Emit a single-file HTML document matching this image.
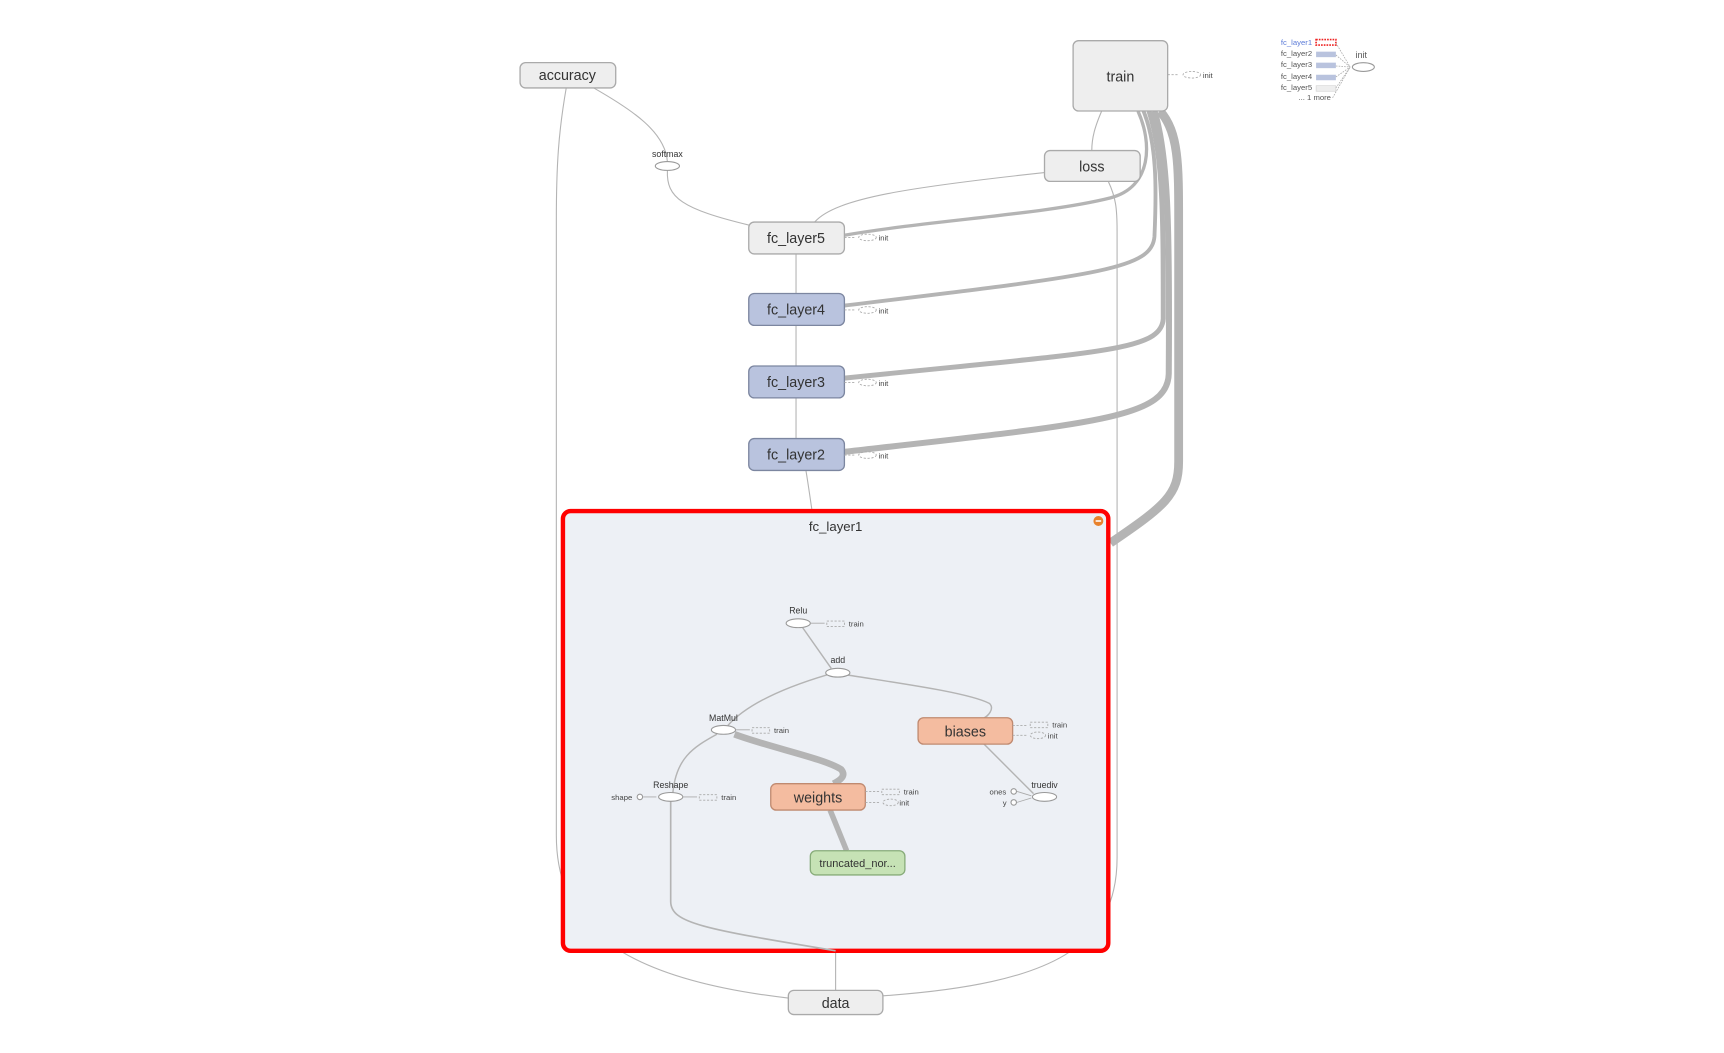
<!DOCTYPE html>
<html><head><meta charset="utf-8"><style>
html,body{margin:0;padding:0;background:#fff;}
svg{display:block;font-family:"Liberation Sans",sans-serif;}
.b{font-size:13px;fill:#333;text-anchor:middle;}
.s{font-size:8px;fill:#333;text-anchor:middle;}
.t{font-size:7px;fill:#444;}
.e{fill:none;stroke:#b4b4b4;}
</style></head><body>
<svg width="1724" height="1053" viewBox="0 0 1568 958" preserveAspectRatio="none" xmlns="http://www.w3.org/2000/svg">
<rect width="1568" height="958" fill="#fff"/>
<path class="e" d="M515 80 C508 120 506 150 506 200 L506 760 C506 840 560 890 717 908" stroke-width="1"/>
<path class="e" d="M1008 165 C1015 180 1016 190 1016 210 L1016 780 C1016 860 960 895 803 906" stroke-width="1"/>
<path class="e" d="M1035 101 C1048 130 1048 170 1010 180 C950 195 850 200 768 214" stroke-width="3"/>
<path class="e" d="M1040 101 C1052 130 1052 170 1050 215 C1048 245 1000 250 768 278" stroke-width="3.5"/>
<path class="e" d="M1045 101 C1058 140 1058 200 1058 290 C1056 320 1000 320 768 344" stroke-width="4.5"/>
<path class="e" d="M1050 101 C1062 140 1064 200 1063 340 C1062 380 1000 385 768 411" stroke-width="5.5"/>
<path class="e" d="M1055 101 C1072 120 1072 150 1072 200 L1072 420 C1072 450 1060 460 1010 494" stroke-width="8"/>
<path class="e" d="M540 80 C575 100 605 120 607 147"/>
<path class="e" d="M607 155 C606 180 620 190 682 205"/>
<path class="e" d="M741 202 C760 180 830 170 950 157"/>
<path class="e" d="M1002 101 C996 115 993 125 993 137"/>
<path class="e" d="M724 231 L724 267"/><path class="e" d="M724 296 L724 333"/><path class="e" d="M724 362 L724 399"/>
<path class="e" d="M733 428 C740 470 740 490 752 510 C765 540 755 550 731 563" stroke-width="1"/>
<path class="e" d="M760 865 L760 901"/>
<rect x="512" y="465" width="496" height="400" rx="7" fill="#edf0f5" stroke="#f00" stroke-width="4"/>
<text class="b" x="760" y="483" style="font-size:12px">fc_layer1</text>
<circle cx="999" cy="474" r="4.5" fill="#e8812c"/><rect x="996.5" y="473.3" width="5" height="1.4" fill="#fff"/>
<path class="e" d="M730 571 L756 608" stroke-width="1.3"/>
<path class="e" d="M752 614 C715 625 680 640 662 660" stroke-width="1.3"/>
<path class="e" d="M770 614 C820 622 880 630 900 640 C905 645 898 652 895 653" stroke-width="1.3"/>
<path class="e" d="M652 668 C630 680 615 690 612 721" stroke-width="1.3"/>
<path class="e" d="M668 668 C700 680 750 690 765 700 C770 706 764 710 758 713" stroke-width="6"/>
<path class="e" d="M755 737 L770 774" stroke-width="5"/>
<path class="e" d="M895 677 L940 722" stroke-width="1.3"/>
<path class="e" d="M610 729 L610 820 C610 840 640 845 760 865" stroke-width="1.5"/>
<g stroke-width="1.2">
<rect x="473" y="57" width="87" height="23" rx="5" fill="#eee" stroke="#aaa"/>
<rect x="976" y="37" width="86" height="64" rx="5" fill="#eee" stroke="#aaa"/>
<rect x="950" y="137" width="87" height="28" rx="5" fill="#eee" stroke="#aaa"/>
<rect x="681" y="202" width="87" height="29" rx="5" fill="#eee" stroke="#aaa"/>
<rect x="681" y="267" width="87" height="29" rx="5" fill="#b9c3de" stroke="#7c86a0"/>
<rect x="681" y="333" width="87" height="29" rx="5" fill="#b9c3de" stroke="#7c86a0"/>
<rect x="681" y="399" width="87" height="29" rx="5" fill="#b9c3de" stroke="#7c86a0"/>
<rect x="717" y="901" width="86" height="22" rx="5" fill="#eee" stroke="#aaa"/>
<rect x="835" y="653" width="86" height="24" rx="5" fill="#f4bca0" stroke="#c08a70"/>
<rect x="701" y="713" width="86" height="24" rx="5" fill="#f4bca0" stroke="#c08a70"/>
<rect x="737" y="774" width="86" height="22" rx="5" fill="#c6e2b5" stroke="#88ac7a"/>
</g>
<text class="b" x="516" y="73">accuracy</text>
<text class="b" x="1019" y="74">train</text>
<text class="b" x="993" y="156">loss</text>
<text class="b" x="724" y="221">fc_layer5</text>
<text class="b" x="724" y="286">fc_layer4</text>
<text class="b" x="724" y="352">fc_layer3</text>
<text class="b" x="724" y="418">fc_layer2</text>
<text class="b" x="760" y="917">data</text>
<text class="b" x="878" y="670">biases</text>
<text class="b" x="744" y="730">weights</text>
<text class="b" x="780" y="789" style="font-size:10px">truncated_nor...</text>
<g fill="#fff" stroke="#999">
<ellipse cx="607" cy="151" rx="11" ry="4"/>
<ellipse cx="726" cy="567" rx="11" ry="4"/>
<ellipse cx="762" cy="612" rx="11" ry="4"/>
<ellipse cx="658" cy="664" rx="11" ry="4"/>
<ellipse cx="610" cy="725" rx="11" ry="4"/>
<ellipse cx="950" cy="725" rx="11" ry="4"/>
<circle cx="582" cy="725" r="2.5"/><circle cx="922" cy="720" r="2.5"/><circle cx="922" cy="730" r="2.5"/>
</g>
<text class="s" x="607" y="143">softmax</text>
<text class="s" x="726" y="558">Relu</text>
<text class="s" x="762" y="603">add</text>
<text class="s" x="658" y="656">MatMul</text>
<text class="s" x="610" y="717">Reshape</text>
<text class="s" x="950" y="717">truediv</text>
<text class="t" x="556" y="728">shape</text>
<text class="t" x="900" y="723">ones</text>
<text class="t" x="912" y="733">y</text>
<g stroke="#aaa" fill="none" stroke-dasharray="2,1.5" stroke-width="0.8">
<path d="M1062 68 H1072"/><ellipse cx="1084" cy="68" rx="8" ry="3"/>
<path d="M768 216 H778"/><ellipse cx="789" cy="216" rx="8" ry="3"/>
<path d="M768 282 H778"/><ellipse cx="789" cy="282" rx="8" ry="3"/>
<path d="M768 348 H778"/><ellipse cx="789" cy="348" rx="8" ry="3"/>
<path d="M768 414 H778"/><ellipse cx="789" cy="414" rx="8" ry="3"/>
<rect x="752" y="565" width="16" height="5"/><rect x="684" y="662" width="16" height="5"/>
<rect x="636" y="723" width="16" height="5"/><rect x="802" y="718" width="16" height="5"/>
<ellipse cx="810" cy="730" rx="7" ry="3"/><rect x="937" y="657" width="16" height="5"/><ellipse cx="944" cy="669" rx="7" ry="3"/>
<path d="M921 660 H935 M921 669 H935 M787 720 H800 M787 730 H800"/>
</g>
<g stroke="#aaa" stroke-width="0.8"><path d="M737 567 H750 M669 664 H682 M621 725 H634 M585 725 H597 M925 720 L938 724 M925 730 L938 726"/></g>
<text class="t" x="1094" y="71">init</text>
<text class="t" x="799" y="219">init</text><text class="t" x="799" y="285">init</text>
<text class="t" x="799" y="351">init</text><text class="t" x="799" y="417">init</text>
<text class="t" x="772" y="570">train</text><text class="t" x="704" y="667">train</text>
<text class="t" x="656" y="728">train</text><text class="t" x="822" y="723">train</text>
<text class="t" x="818" y="733">init</text><text class="t" x="957" y="662">train</text><text class="t" x="953" y="672">init</text>
<g font-size="7" fill="#555">
<text x="1165" y="41" fill="#5b7bd8">fc_layer1</text>
<text x="1165" y="51">fc_layer2</text><text x="1165" y="61">fc_layer3</text>
<text x="1165" y="72">fc_layer4</text><text x="1165" y="82">fc_layer5</text>
<text x="1181" y="91">... 1 more</text>
<text x="1233" y="53" font-size="8">init</text>
</g>
<rect x="1197" y="36" width="18" height="5" fill="none" stroke="#e22" stroke-dasharray="1.5,1" stroke-width="1.5"/>
<rect x="1197" y="47" width="18" height="5" fill="#b9c3de"/><rect x="1197" y="57" width="18" height="5" fill="#b9c3de"/>
<rect x="1197" y="68" width="18" height="5" fill="#b9c3de"/><rect x="1197" y="78" width="18" height="5" fill="#eee" stroke="#ccc" stroke-width="0.5"/>
<g stroke="#aaa" stroke-width="0.7" stroke-dasharray="1.5,1" fill="none"><path d="M1215 39 L1228 61 M1215 50 L1228 61 M1215 60 L1228 61 M1215 70 L1228 61 M1215 80 L1228 61 M1212 89 L1228 61"/></g>
<ellipse cx="1240" cy="61" rx="10" ry="4" fill="#fff" stroke="#999"/>
</svg>
</body></html>
